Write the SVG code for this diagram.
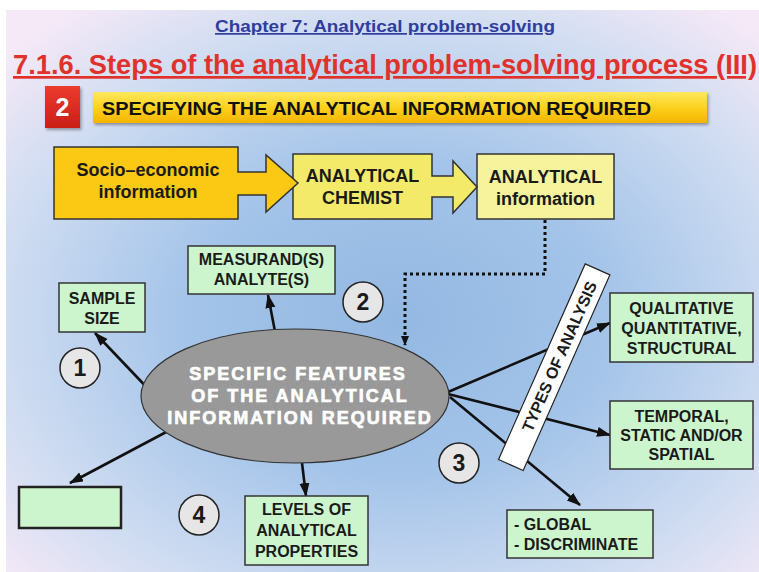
<svg xmlns="http://www.w3.org/2000/svg" width="759" height="572" viewBox="0 0 759 572">
<defs>
<radialGradient id="bg" cx="52%" cy="55%" r="70%">
<stop offset="0" stop-color="#93b8e2"/>
<stop offset="0.4" stop-color="#a4c4e9"/>
<stop offset="0.75" stop-color="#cfdcf1"/>
<stop offset="1" stop-color="#f5e9f7"/>
</radialGradient>
<linearGradient id="ban" x1="0" y1="0" x2="0" y2="1">
<stop offset="0" stop-color="#fde85e"/>
<stop offset="0.5" stop-color="#fcd21e"/>
<stop offset="1" stop-color="#f4b400"/>
</linearGradient>
<linearGradient id="redg" x1="0" y1="0" x2="0" y2="1">
<stop offset="0" stop-color="#ec3b2e"/>
<stop offset="1" stop-color="#c91f17"/>
</linearGradient>
<filter id="sh" x="-10%" y="-10%" width="130%" height="140%">
<feDropShadow dx="1.5" dy="2" stdDeviation="1.5" flood-color="#000" flood-opacity="0.35"/>
</filter>
<marker id="ah" markerUnits="userSpaceOnUse" markerWidth="16" markerHeight="12" refX="13" refY="5" orient="auto">
<path d="M0,0 L14,5 L0,10 Z" fill="#111"/>
</marker>
<marker id="ahs" markerUnits="userSpaceOnUse" markerWidth="12" markerHeight="10" refX="9" refY="4" orient="auto">
<path d="M0,0 L10,4 L0,8 Z" fill="#111"/>
</marker>
</defs>
<style>
.t{font-family:"Liberation Sans",Arial,sans-serif;font-weight:bold;fill:#1a1a1a;text-anchor:middle}
.bx{font-size:16px}
.big{font-size:18px}
.g{fill:#cdf5cd;stroke:#333;stroke-width:1.5}
.c{fill:#e6e6e6;stroke:#222;stroke-width:1.5}
.num{font-size:23px}
.ln{stroke:#111;stroke-width:2.6;fill:none;marker-end:url(#ah)}
.w{fill:#fff;stroke:#fff;stroke-width:0.7}
</style>
<rect x="0" y="0" width="759" height="572" fill="#fff"/>
<rect x="6" y="10" width="753" height="562" fill="url(#bg)"/>

<g id="header">
<text x="385" y="32" font-family="Liberation Sans,Arial,sans-serif" font-weight="bold" font-size="17" fill="#2e3d9e" text-anchor="middle" text-decoration="underline" textLength="340" lengthAdjust="spacingAndGlyphs">Chapter 7: Analytical problem-solving</text>
<text x="13" y="74" font-family="Liberation Sans,Arial,sans-serif" font-weight="bold" font-size="27" fill="#e0312b" text-decoration="underline" textLength="744" lengthAdjust="spacingAndGlyphs">7.1.6. Steps of the analytical problem-solving process (III)</text>
</g>

<g id="step2">
<rect x="45" y="86" width="35" height="42" fill="url(#redg)" filter="url(#sh)"/>
<text x="62.5" y="116" font-family="Liberation Sans,Arial,sans-serif" font-weight="bold" font-size="25" fill="#fff" text-anchor="middle">2</text>
<rect x="93" y="92" width="614" height="31" fill="url(#ban)" filter="url(#sh)"/>
<text x="102" y="115" font-family="Liberation Sans,Arial,sans-serif" font-weight="bold" font-size="19" fill="#111" textLength="549" lengthAdjust="spacingAndGlyphs">SPECIFYING THE ANALYTICAL INFORMATION REQUIRED</text>
</g>

<g id="info">
<rect x="477" y="154" width="137" height="65" fill="#f7f39c" stroke="#333" stroke-width="1.5"/>
<text class="t big" x="545.5" y="183">ANALYTICAL</text>
<text class="t big" x="545.5" y="205">information</text>
</g>
<g id="chemist">
<path d="M293,154 H432 V176 H453 V161 L477,187 L453,213 V197 H432 V219 H293 Z" fill="#f2ea68" stroke="#333" stroke-width="1.5" stroke-linejoin="miter"/>
<text class="t big" x="362.5" y="182">ANALYTICAL</text>
<text class="t big" x="362.5" y="204">CHEMIST</text>
</g>
<g id="socio">
<path d="M54,147 H238 V172 H266 V155 L298,183 L266,212 V195 H238 V219 H54 Z" fill="#fbc814" stroke="#333" stroke-width="1.5"/>
<text class="t big" x="148" y="176">Socio–economic</text>
<text class="t big" x="148" y="198">information</text>
</g>

<g id="connectors">
<path d="M545,220 V274 H405 V345" stroke="#111" stroke-width="3" stroke-dasharray="3,3" fill="none" marker-end="url(#ahs)"/>
<line class="ln" x1="154" y1="395" x2="95" y2="333"/>
<line class="ln" x1="277" y1="342" x2="268" y2="295"/>
<line class="ln" x1="170" y1="430" x2="70" y2="483"/>
<line class="ln" x1="302" y1="463" x2="306" y2="496"/>
<line class="ln" x1="448" y1="392" x2="610" y2="323"/>
<line class="ln" x1="448" y1="394" x2="610" y2="435"/>
<line class="ln" x1="450" y1="397" x2="580" y2="505"/>
</g>

<g id="features">
<ellipse cx="295" cy="396" rx="154" ry="67" fill="#999" stroke="#333" stroke-width="1.2"/>
<text class="t w" x="298" y="380" font-size="18" letter-spacing="2">SPECIFIC FEATURES</text>
<text class="t w" x="300" y="402" font-size="18" letter-spacing="2">OF THE ANALYTICAL</text>
<text class="t w" x="300" y="424" font-size="18" letter-spacing="2">INFORMATION REQUIRED</text>
</g>

<g id="types">
<g transform="translate(554.2,367.2) rotate(-66.1)">
<rect x="-107" y="-13.5" width="214" height="27" fill="#fff" stroke="#222" stroke-width="1.2"/>
<text class="t" x="12" y="6" font-size="16">TYPES OF ANALYSIS</text>
</g>
</g>

<g id="sample">
<rect class="g" x="59" y="283" width="86" height="49"/>
<text class="t bx" x="102" y="304">SAMPLE</text>
<text class="t bx" x="102" y="324">SIZE</text>
</g>
<g id="measurand">
<rect class="g" x="188" y="246" width="147" height="48"/>
<text class="t bx" x="261.5" y="265">MEASURAND(S)</text>
<text class="t bx" x="261.5" y="285">ANALYTE(S)</text>
</g>
<g id="qualitative">
<rect class="g" x="610" y="293" width="143" height="69"/>
<text class="t bx" x="681.5" y="314">QUALITATIVE</text>
<text class="t bx" x="681.5" y="334">QUANTITATIVE,</text>
<text class="t bx" x="681.5" y="354">STRUCTURAL</text>
</g>
<g id="temporal">
<rect class="g" x="610" y="401" width="143" height="68"/>
<text class="t bx" x="681.5" y="422">TEMPORAL,</text>
<text class="t bx" x="681.5" y="441">STATIC AND/OR</text>
<text class="t bx" x="681.5" y="460">SPATIAL</text>
</g>
<g id="global">
<rect class="g" x="507" y="510" width="146" height="48"/>
<text class="t bx" x="514" y="530" style="text-anchor:start">- GLOBAL</text>
<text class="t bx" x="514" y="550" style="text-anchor:start">- DISCRIMINATE</text>
</g>
<g id="levels">
<rect class="g" x="245" y="496" width="123" height="69"/>
<text class="t bx" x="306.5" y="515">LEVELS OF</text>
<text class="t bx" x="306.5" y="536">ANALYTICAL</text>
<text class="t bx" x="306.5" y="557">PROPERTIES</text>
</g>
<g id="empty">
<rect x="19" y="487" width="102" height="41" fill="#cdf5cd" stroke="#222" stroke-width="2.5"/>
</g>

<g id="n1"><circle class="c" cx="80" cy="368" r="20"/><text class="t num" x="80" y="376">1</text></g>
<g id="n2"><circle class="c" cx="363" cy="302" r="20"/><text class="t num" x="363" y="310">2</text></g>
<g id="n3"><circle class="c" cx="459" cy="463" r="20"/><text class="t num" x="459" y="471">3</text></g>
<g id="n4"><circle class="c" cx="199" cy="515" r="20"/><text class="t num" x="199" y="523">4</text></g>
</svg>
